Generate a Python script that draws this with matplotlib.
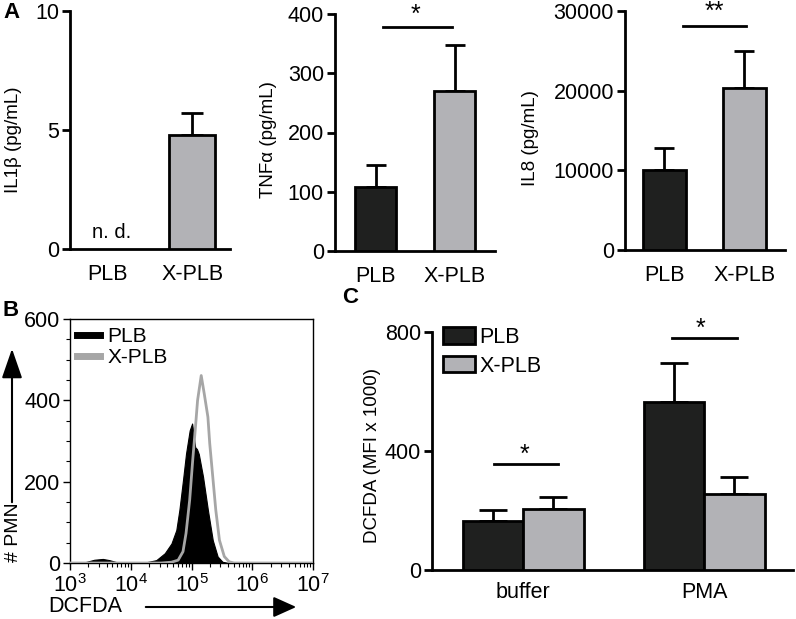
import numpy as np
import matplotlib
matplotlib.use('Agg')
import matplotlib.pyplot as plt
from matplotlib.lines import Line2D
from matplotlib.patches import Patch, FancyArrowPatch
from matplotlib.ticker import FixedLocator, LogLocator, NullFormatter

plt.rcParams['font.family'] = ['Liberation Sans', 'DejaVu Sans']
plt.rcParams['mathtext.fontset'] = 'custom'
plt.rcParams['mathtext.rm'] = 'Liberation Sans'
plt.rcParams['mathtext.default'] = 'regular'

# ---- data ----
groups = ['PLB', 'X-PLB']
il1b_mean = [4.8]          # PLB not detected
il1b_err = [0.9]
tnf_mean = [108, 270]
tnf_err = [37, 77]
il8_mean = [10000, 20300]
il8_err = [2800, 4700]

stim = ['buffer', 'PMA']
dcf_plb = [164, 565]
dcf_plb_err = [37, 132]
dcf_xplb = [204, 257]
dcf_xplb_err = [42, 54]

# histogram, x as log10(DCFDA)
plb_log = [3.0, 3.2, 3.3, 3.4, 3.54, 3.65, 3.79, 3.9, 4.15, 4.26, 4.42, 4.56, 4.67, 4.75,
           4.80, 4.86, 4.91, 4.97, 5.01, 5.06, 5.09, 5.12, 5.19, 5.27, 5.35, 5.43, 5.51, 5.6, 7.0]
plb_cnt = [0, 0, 4, 8, 10, 7, 1, 0, 0, 2, 7, 24, 48, 81,
           130, 204, 269, 326, 343, 285, 280, 268, 212, 130, 56, 16, 3, 0, 0]
xplb_log = [3.0, 4.5, 4.67, 4.78, 4.86, 4.91, 4.97, 5.02, 5.07, 5.10, 5.16, 5.21, 5.27,
            5.30, 5.35, 5.40, 5.46, 5.54, 5.62, 5.70, 7.0]
xplb_cnt = [0, 0, 2, 7, 28, 73, 155, 253, 343, 400, 461, 416, 359,
            294, 212, 130, 56, 16, 3, 0, 0]

DARK = '#1f201f'
GREY = '#b2b2b6'
HGREY = '#a6a6a6'

TICK = 15.5
LAB = 13.5

W, H = 796, 619
fig = plt.figure(figsize=(W / 100, H / 100), dpi=100)

def px(x, y):
    return x / W, 1 - y / H

def add_ax(left, top, right, bottom):
    return fig.add_axes([left / W, 1 - bottom / H, (right - left) / W, (bottom - top) / H])

def prism(ax):
    for s in ['top', 'right']:
        ax.spines[s].set_visible(False)
    for s in ['left', 'bottom']:
        ax.spines[s].set_linewidth(2)
    ax.tick_params(axis='y', length=6, width=2, labelsize=TICK, pad=2)
    ax.tick_params(axis='x', length=0, labelsize=TICK, pad=11)

def star(ax, x, y, s):
    ax.text(x, y, s, ha='center', va='center', fontsize=18, clip_on=False)

# ---- A: cytokines ----
ax1 = add_ax(70, 11, 230, 249)
x = np.arange(2)
ax1.bar(x[1:], il1b_mean, 0.54, color=GREY, edgecolor='k', lw=2, zorder=3)
ax1.errorbar(x[1:], il1b_mean, yerr=[[0], il1b_err], fmt='none', ecolor='k',
             elinewidth=2, capsize=8, capthick=2, zorder=2)
ax1.text(0.05, 0.3, 'n. d.', ha='center', va='bottom', fontsize=14.5)
ax1.set_xlim(-0.45, 1.45)
ax1.set_ylim(0, 10)
ax1.set_yticks([0, 5, 10])
ax1.set_xticks(x, groups)
ax1.set_ylabel('IL1\u03b2 (pg/mL)', fontsize=LAB)
ax1.yaxis.set_label_coords(-0.3, 0.46)
prism(ax1)

ax2 = add_ax(335, 14, 495, 251)
ax2.bar(x, tnf_mean, 0.52, color=[DARK, GREY], edgecolor='k', lw=2, zorder=3)
ax2.errorbar(x, tnf_mean, yerr=[[0, 0], tnf_err], fmt='none', ecolor='k',
             elinewidth=2, capsize=7, capthick=2, zorder=2)
ax2.plot([0.09, 0.96], [378, 378], color='k', lw=2, clip_on=False)
star(ax2, 0.5, 398, '*')
ax2.set_xlim(-0.52, 1.51)
ax2.set_ylim(0, 400)
ax2.set_yticks([0, 100, 200, 300, 400])
ax2.set_xticks(x, groups)
ax2.set_ylabel('TNF\u03b1 (pg/mL)', fontsize=LAB)
ax2.yaxis.set_label_coords(-0.36, 0.47)
prism(ax2)

ax3 = add_ax(625, 11, 785, 250)
ax3.bar(x, il8_mean, 0.54, color=[DARK, GREY], edgecolor='k', lw=2, zorder=3)
ax3.errorbar(x, il8_mean, yerr=[[0, 0], il8_err], fmt='none', ecolor='k',
             elinewidth=2, capsize=7, capthick=2, zorder=2)
ax3.plot([0.23, 1.02], [28100, 28100], color='k', lw=2, clip_on=False)
star(ax3, 0.63, 29900, '**')
ax3.set_xlim(-0.49, 1.51)
ax3.set_ylim(0, 30000)
ax3.set_yticks([0, 10000, 20000, 30000])
ax3.set_xticks(x, groups)
ax3.set_ylabel('IL8 (pg/mL)', fontsize=LAB)
ax3.yaxis.set_label_coords(-0.54, 0.47)
prism(ax3)

# ---- B: histogram ----
axb = add_ax(70, 319, 313, 563)
plb_x = 10 ** np.array(plb_log)
xplb_x = 10 ** np.array(xplb_log)
axb.fill_between(plb_x, plb_cnt, color='k', lw=0.8, zorder=2)
axb.plot(xplb_x, xplb_cnt, color=HGREY, lw=2, zorder=3)
axb.set_xscale('log')
axb.set_xlim(1e3, 1e7)
axb.set_ylim(0, 600)
axb.set_yticks([0, 200, 400, 600])
axb.yaxis.set_minor_locator(FixedLocator(np.arange(0, 601, 50)))
axb.xaxis.set_major_locator(LogLocator(base=10, numticks=10))
axb.xaxis.set_minor_locator(LogLocator(base=10, subs=np.arange(2, 10), numticks=20))
axb.xaxis.set_minor_formatter(NullFormatter())
for s in axb.spines.values():
    s.set_linewidth(1)
axb.tick_params(which='major', length=5, width=1, labelsize=TICK)
axb.tick_params(axis='y', which='major', pad=2)
axb.tick_params(axis='x', which='major', pad=3)
axb.tick_params(which='minor', length=3, width=0.8)
axb.legend(handles=[Line2D([], [], color='k', lw=5, label='PLB'),
                    Line2D([], [], color=HGREY, lw=5, label='X-PLB')],
           loc='upper left', bbox_to_anchor=px(77, 327), bbox_transform=fig.transFigure,
           frameon=False, fontsize=15, handlelength=1.1, handletextpad=0.35,
           labelspacing=0.1, borderpad=0, borderaxespad=0)

fig.text(*px(13, 532), '# PMN', rotation=90, ha='center', va='center', fontsize=14)
fig.add_artist(FancyArrowPatch(
    px(12, 505), px(12, 346), transform=fig.transFigure,
    arrowstyle='-|>,head_length=1.3,head_width=0.45', mutation_scale=14, color='k', lw=1.5))
fig.text(*px(85, 607), 'DCFDA', ha='center', va='center', fontsize=15.5)
fig.add_artist(FancyArrowPatch(
    px(143, 607), px(299, 607), transform=fig.transFigure,
    arrowstyle='-|>,head_length=1.0,head_width=0.45', mutation_scale=14, color='k', lw=1.5))

# ---- C: DCFDA MFI ----
axc = add_ax(432, 332, 793, 570)
g = np.arange(2)
bw = 0.334
axc.bar(g - bw / 2, dcf_plb, bw, color=DARK, edgecolor='k', lw=2, zorder=3, label='PLB')
axc.bar(g + bw / 2, dcf_xplb, bw, color=GREY, edgecolor='k', lw=2, zorder=3, label='X-PLB')
axc.errorbar(g - bw / 2, dcf_plb, yerr=[[0, 0], dcf_plb_err], fmt='none', ecolor='k',
             elinewidth=2, capsize=10, capthick=2, zorder=2)
axc.errorbar(g + bw / 2, dcf_xplb, yerr=[[0, 0], dcf_xplb_err], fmt='none', ecolor='k',
             elinewidth=2, capsize=10, capthick=2, zorder=2)
axc.plot([-0.16, 0.19], [356, 356], color='k', lw=2)
star(axc, 0.01, 388, '*')
axc.plot([0.82, 1.18], [780, 780], color='k', lw=2, clip_on=False)
star(axc, 0.98, 812, '*')
axc.set_xlim(-0.503, 1.49)
axc.set_ylim(0, 800)
axc.set_yticks([0, 400, 800])
axc.set_xticks(g, stim)
axc.set_ylabel('DCFDA (MFI x 1000)', fontsize=LAB)
axc.yaxis.set_label_coords(-0.14, 0.48)
prism(axc)
axc.tick_params(axis='x', pad=9)
axc.legend(handles=[Patch(facecolor=DARK, edgecolor='k', lw=2, label='PLB'),
                    Patch(facecolor=GREY, edgecolor='k', lw=2, label='X-PLB')],
           loc='upper left', bbox_to_anchor=px(443, 327), bbox_transform=fig.transFigure,
           frameon=False, fontsize=15.5, handlelength=1.5, handleheight=0.8,
           handletextpad=0.2, labelspacing=0.35, borderpad=0, borderaxespad=0)

# panel letters
fig.text(*px(3, 13), 'A', fontsize=16, fontweight='bold', va='center')
fig.text(*px(3, 311), 'B', fontsize=16, fontweight='bold', va='center')
fig.text(*px(342, 298), 'C', fontsize=16, fontweight='bold', va='center')

fig.savefig('out.png', dpi=100)
